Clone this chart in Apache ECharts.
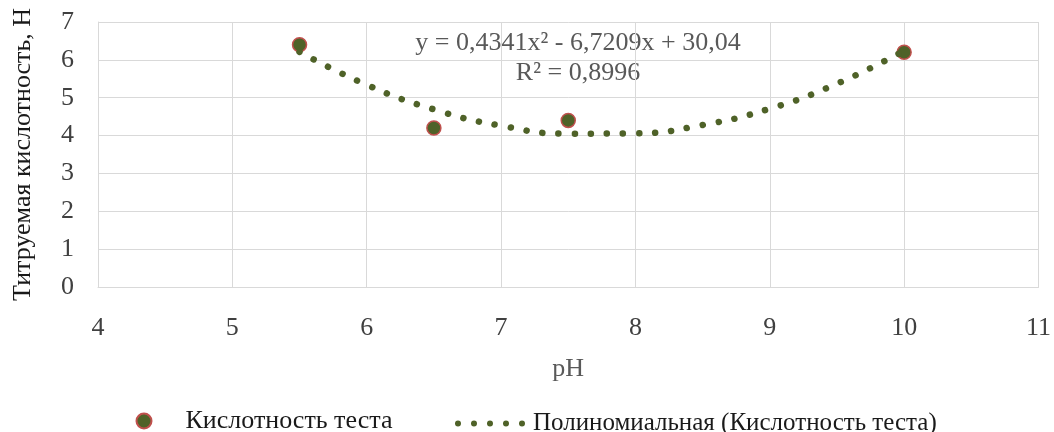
<!DOCTYPE html>
<html>
<head>
<meta charset="utf-8">
<script src="https://cdn.jsdelivr.net/npm/echarts@6/dist/echarts.min.js"></script>
<style>
html,body{margin:0;padding:0;background:#fff;}
#chart{width:1054px;height:432px;}
</style>
</head>
<body>
<div id="chart"></div>
<script>
// Measured data points
const phValues = [5.5, 6.5, 7.5, 10];
const acidityValues = [6.4, 4.2, 4.4, 6.2];
// Trendline values
const trendX = [5.5, 6, 6.5, 7, 7.5, 8, 8.5, 9, 9.5, 10];
const trendY = [6.21, 5.34, 4.69, 4.26, 4.05, 4.06, 4.28, 4.71, 5.37, 6.24];
// Axis ticks
const xTicks = [4, 5, 6, 7, 8, 9, 10, 11];
const yTicks = [0, 1, 2, 3, 4, 5, 6, 7];
// Texts
const seriesName = 'Кислотность теста';
const trendName = 'Полиномиальная (Кислотность теста)';
const xTitle = 'pH';
const yTitle = 'Титруемая кислотность, Н';
const equationLine = 'y = 0,4341x² - 6,7209x + 30,04';
const r2Line = 'R² = 0,8996';

const FONT = '"Liberation Serif", "Times New Roman", serif';
const FS = 26;
const GREEN = '#4f6228';
const RED = '#c0504d';
const GRID = '#d9d9d9';

const chart = echarts.init(document.getElementById('chart'), null, {renderer: 'canvas'});
const dotsIcon = 'path://M0,3a3,3 0 1,0 6,0a3,3 0 1,0 -6,0Z M16,3a3,3 0 1,0 6,0a3,3 0 1,0 -6,0Z M32,3a3,3 0 1,0 6,0a3,3 0 1,0 -6,0Z M48,3a3,3 0 1,0 6,0a3,3 0 1,0 -6,0Z M64,3a3,3 0 1,0 6,0a3,3 0 1,0 -6,0Z';

chart.setOption({
  animation: false,
  grid: {left: 98, right: 12, top: 22, bottom: 145, containLabel: false},
  xAxis: {
    type: 'value',
    min: xTicks[0], max: xTicks[xTicks.length - 1], interval: 1,
    name: xTitle, nameLocation: 'middle', nameGap: 69,
    nameTextStyle: {fontFamily: FONT, fontSize: FS, color: '#595959'},
    axisLine: {show: true, lineStyle: {color: GRID, width: 1}},
    axisTick: {show: false},
    axisLabel: {fontFamily: FONT, fontSize: FS, color: '#404040', margin: 28},
    splitLine: {show: true, lineStyle: {color: GRID, width: 1}}
  },
  yAxis: {
    type: 'value',
    min: yTicks[0], max: yTicks[yTicks.length - 1], interval: 1,
    name: yTitle, nameLocation: 'middle', nameGap: 62, nameRotate: 90,
    nameTextStyle: {fontFamily: FONT, fontSize: FS, color: '#1a1a1a'},
    axisLine: {show: true, lineStyle: {color: GRID, width: 1}},
    axisTick: {show: false},
    axisLabel: {fontFamily: FONT, fontSize: FS, color: '#404040', margin: 24},
    splitLine: {show: true, lineStyle: {color: GRID, width: 1}}
  },
  legend: [
    {
      data: [seriesName],
      left: 135.5, top: 408, padding: 0,
      itemWidth: 15, itemHeight: 15,
      icon: 'circle',
      textStyle: {fontFamily: FONT, fontSize: FS, color: '#1a1a1a', padding: [0, 0, 0, 29]},
      selectedMode: false
    },
    {
      data: [{name: trendName, icon: dotsIcon}],
      left: 455, top: 411, padding: 0,
      itemWidth: 70, itemHeight: 6,
      itemStyle: {color: GREEN, borderWidth: 0},
      textStyle: {fontFamily: FONT, fontSize: 25, color: '#1a1a1a', padding: [0, 0, 0, 3]},
      selectedMode: false
    }
  ],
  graphic: [
    {type: 'text', x: 578, y: 43, style: {text: equationLine, font: FS + 'px ' + FONT, fill: '#595959', textAlign: 'center', textVerticalAlign: 'middle'}},
    {type: 'text', x: 578, y: 73, style: {text: r2Line, font: FS + 'px ' + FONT, fill: '#595959', textAlign: 'center', textVerticalAlign: 'middle'}}
  ],
  series: [
    {
      name: seriesName,
      type: 'scatter',
      data: phValues.map((x, i) => [x, acidityValues[i]]),
      symbol: 'circle',
      symbolSize: 14,
      itemStyle: {color: GREEN, borderColor: RED, borderWidth: 1.5, opacity: 1},
      z: 2
    },
    {
      name: trendName,
      type: 'line',
      data: trendX.map((x, i) => [x, trendY[i]]),
      smooth: 0.5,
      showSymbol: false,
      symbol: 'none',
      lineStyle: {color: GREEN, width: 6.5, type: [0.1, 16], cap: 'round'},
      itemStyle: {color: GREEN},
      z: 3
    }
  ]
});
</script>
</body>
</html>
